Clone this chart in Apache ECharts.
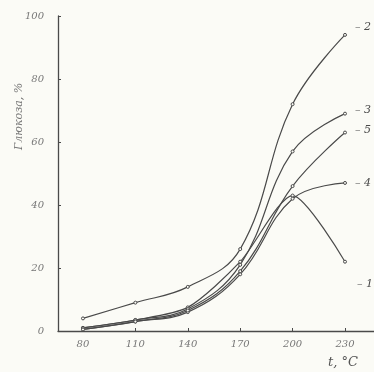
<!DOCTYPE html>
<html>
<head>
<meta charset="utf-8">
<script src="https://cdn.jsdelivr.net/npm/echarts@6/dist/echarts.min.js"></script>
<style>
  html, body { margin: 0; padding: 0; background: #fbfbf6; }
  #chart { width: 374px; height: 372px; }
</style>
</head>
<body>
<div id="chart"></div>
<script>
'use strict';

// температура, °C
var temps = [80, 110, 140, 170, 200, 230];
var tickTemps = [80, 110, 140, 170, 200, 230];

// выход глюкозы, % (кривые 1-5)
var curve1 = [1, 3.5, 7.5, 22, 43, 22];
var curve2 = [4, 9, 14, 26, 72, 94];
var curve3 = [1, 3.5, 7, 21, 57, 69];
var curve4 = [0.5, 3, 6, 18, 42, 47];
var curve5 = [0.5, 3, 6.5, 19, 46, 63];

var ink = '#4a4a4a';

function makeSeries(name, values, smooth, labelOffset) {
  return {
    name: name,
    type: 'line',
    smooth: smooth,
    data: temps.map(function (t, i) { return [t, values[i]]; }),
    symbol: 'circle',
    symbolSize: 3,
    lineStyle: { color: ink, width: 1.2 },
    itemStyle: { color: '#fbfbf6', borderColor: ink, borderWidth: 1 },
    endLabel: {
      show: true,
      formatter: '– ' + name,
      color: ink,
      fontSize: 11,
      fontStyle: 'italic',
      fontFamily: 'DejaVu Serif',
      offset: labelOffset
    },
    animation: false
  };
}

var chart = echarts.init(document.getElementById('chart'));
chart.setOption({
  backgroundColor: '#fbfbf6',
  grid: { left: 58, right: 0, top: 16, bottom: 41 },
  xAxis: {
    type: 'value',
    min: 65.7,
    max: 246.6,
    axisLine: { lineStyle: { color: ink, width: 1.3 } },
    axisTick: { show: true, customValues: tickTemps, length: 3, inside: true, lineStyle: { color: ink } },
    axisLabel: {
      customValues: tickTemps,
      color: '#777',
      fontSize: 10,
      fontStyle: 'italic',
      fontFamily: 'DejaVu Serif',
      margin: 8
    },
    splitLine: { show: false }
  },
  yAxis: {
    type: 'value',
    min: 0,
    max: 100,
    interval: 20,
    axisLine: { show: true, lineStyle: { color: ink, width: 1.3 } },
    axisTick: { show: true, inside: true, length: 3, lineStyle: { color: ink } },
    axisLabel: {
      color: '#777',
      fontSize: 10,
      fontStyle: 'italic',
      fontFamily: 'DejaVu Serif',
      margin: 14
    },
    splitLine: { show: false }
  },
  series: [
    makeSeries('1', curve1, 0.25, [4, 22]),
    makeSeries('2', curve2, 0.4, [2, -8]),
    makeSeries('3', curve3, 0.4, [2, -4]),
    makeSeries('4', curve4, 0.4, [2, 0]),
    makeSeries('5', curve5, 0.4, [2, -2])
  ],
  graphic: [
    {
      type: 'text',
      x: 14,
      y: 150,
      rotation: Math.PI / 2,
      style: {
        text: 'Глюкоза, %',
        fill: '#777',
        font: 'italic 11px "DejaVu Serif"'
      }
    },
    {
      type: 'text',
      x: 328,
      y: 356,
      style: {
        text: 't, °C',
        fill: '#555',
        font: 'italic 13px "DejaVu Serif"'
      }
    }
  ]
});
</script>
</body>
</html>
